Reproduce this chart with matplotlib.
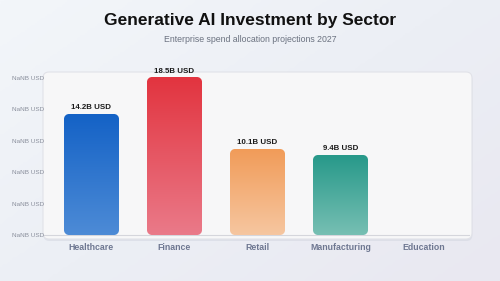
import numpy as np
import matplotlib
matplotlib.use("Agg")
import matplotlib.pyplot as plt
from matplotlib.patches import FancyBboxPatch
from matplotlib.colors import LinearSegmentedColormap, to_rgb

# data
sectors = ["Healthcare", "Finance", "Retail", "Manufacturing", "Education"]
invest = [14.2, 18.5, 10.1, 9.4, np.nan]
value_labels = ["14.2B USD", "18.5B USD", "10.1B USD", "9.4B USD", ""]
tick_vals = [0, 3.7, 7.4, 11.1, 14.8, 18.5]
tick_labels = ["NaNB USD"] * 6

# gradient top/bottom for each bar
bar_colors = [
    ("#1462c6", "#4d8bd6"),
    ("#e2343f", "#ea7a89"),
    ("#f19c59", "#f6c6a0"),
    ("#28998a", "#76bfb3"),
    ("#999999", "#cccccc"),
]


def rounded_gradient(w_px, h_px, top, bottom, r):
    # rgba image, top row first, with rounded corners cut by alpha
    t = np.linspace(0, 1, h_px).reshape(-1, 1, 1)
    c0, c1 = np.array(to_rgb(top)), np.array(to_rgb(bottom))
    rgb = np.broadcast_to(c0 * (1 - t) + c1 * t, (h_px, w_px, 3))
    yy, xx = np.mgrid[0:h_px, 0:w_px] + 0.5
    cx = np.clip(xx, r, w_px - r)
    cy = np.clip(yy, r, h_px - r)
    d = np.hypot(xx - cx, yy - cy)
    alpha = np.clip(r - d + 0.5, 0, 1)
    return np.dstack([rgb, alpha])


plt.rcParams['font.family'] = ['Liberation Sans', 'DejaVu Sans']

fig = plt.figure(figsize=(5, 2.81), dpi=100)

# background gradient
bg = fig.add_axes([0, 0, 1, 1], zorder=0)
gx, gy = np.meshgrid(np.linspace(0, 1, 200), np.linspace(0, 1, 120))
t = np.clip(0.55 * gx + 0.45 * gy, 0, 1)
cm_bg = LinearSegmentedColormap.from_list("bg", ["#f3f6fa", "#eceff5", "#e9e8f1"])
bg.imshow(t, cmap=cm_bg, aspect="auto", extent=[0, 1, 0, 1], origin="upper")
bg.axis("off")

W, H = 500, 281
ax = fig.add_axes([43 / W, 1 - 239 / H, (472 - 43) / W, (239 - 72) / H], zorder=1)
ax.patch.set_alpha(0)
ax.set_xlim(-0.58, 4.58)
ax.set_ylim(-0.47, 19.18)
fig.canvas.draw()
px_x = ax.transData.transform((1, 0))[0] - ax.transData.transform((0, 0))[0]
px_y = ax.transData.transform((0, 1))[1] - ax.transData.transform((0, 0))[1]

# panel (drawn in data coords so the corners stay round)
x_lo, x_hi = ax.get_xlim()
y_lo, y_hi = ax.get_ylim()
for dx, dy, fc, ec, al, z in [(0.4 / px_x, -2.0 / px_y, "#d3d6e0", "none", 0.55, -1),
                              (0, 0, "#f7f7f8", "#e1e2e8", 1.0, 0)]:
    p = FancyBboxPatch((x_lo + dx, y_lo + dy), x_hi - x_lo, y_hi - y_lo,
                       boxstyle=f"round,pad=0,rounding_size={6 / px_x}",
                       mutation_aspect=px_x / px_y, facecolor=fc, edgecolor=ec,
                       linewidth=0.8, alpha=al, zorder=z, clip_on=False)
    ax.add_patch(p)

ax.plot([x_lo + 1 / px_x, x_hi - 3 / px_x], [0, 0], color="#d5d6dc", linewidth=0.8, zorder=1)

# bars
x = np.arange(len(sectors))
bars = ax.bar(x, np.nan_to_num(invest), width=0.66, color="none", zorder=2)
for i, b in enumerate(bars):
    v = invest[i]
    if np.isnan(v):
        continue
    x0, w, h = b.get_x(), b.get_width(), b.get_height()
    w_px = int(round(w * px_x))
    h_px = int(round(h * px_y))
    img = rounded_gradient(w_px, h_px, bar_colors[i][0], bar_colors[i][1], 5.0)
    ax.imshow(img, aspect="auto", extent=[x0, x0 + w, 0, h], origin="upper",
              interpolation="nearest", zorder=2)
    ax.text(x0 + w / 2, h + 0.35, value_labels[i], ha="center", va="bottom",
            fontsize=5.7, fontweight="bold", color="#1a1a1a", zorder=3)

ax.set_xlim(x_lo, x_hi)
ax.set_ylim(y_lo, y_hi)

ax.set_yticks(tick_vals)
ax.set_yticklabels(tick_labels, fontsize=4.6, color="#8a8f9c")
ax.set_xticks(x)
ax.set_xticklabels(sectors, fontsize=6.3, color="#6e7791", fontweight="bold")
ax.tick_params(axis="both", length=0)
ax.tick_params(axis="y", pad=-1)
ax.tick_params(axis="x", pad=3)
for s in ax.spines.values():
    s.set_visible(False)

fig.text(0.5, 1 - 21 / H, "Generative AI Investment by Sector", ha="center", va="center",
         fontsize=12.5, fontweight="bold", color="#111111")
fig.text(0.5, 1 - 39 / H, "Enterprise spend allocation projections 2027", ha="center",
         va="center", fontsize=6.3, color="#6b7280")

fig.savefig("out.png", dpi=100)
